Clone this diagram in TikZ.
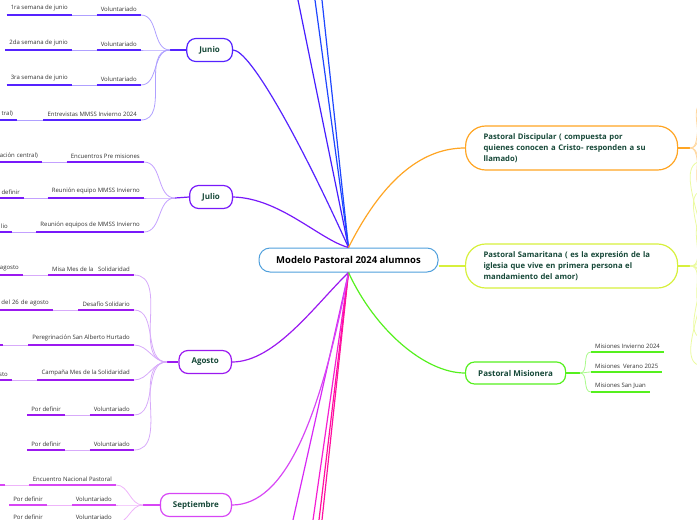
\documentclass[tikz,border=0pt]{standalone}
\usepackage{fontspec}
\setmainfont{Open Sans}
\usetikzlibrary{positioning,calc}

\definecolor{txtgreen}{RGB}{22,72,56}
\definecolor{leaftxt}{RGB}{50,50,50}
\definecolor{centreblue}{RGB}{80,160,220}
\definecolor{junioc}{RGB}{85,35,255}
\definecolor{juniol}{RGB}{175,160,255}
\definecolor{julioc}{RGB}{120,25,250}
\definecolor{juliol}{RGB}{195,160,255}
\definecolor{agostoc}{RGB}{155,25,240}
\definecolor{agostol}{RGB}{215,170,250}
\definecolor{septc}{RGB}{215,70,245}
\definecolor{septl}{RGB}{238,180,250}
\definecolor{discc}{RGB}{255,165,35}
\definecolor{discl}{RGB}{255,215,160}
\definecolor{samc}{RGB}{215,240,60}
\definecolor{saml}{RGB}{235,250,160}
\definecolor{misc}{RGB}{85,240,30}
\definecolor{misl}{RGB}{170,250,140}
\definecolor{topa}{RGB}{70,30,255}
\definecolor{topb}{RGB}{30,70,255}
\definecolor{bota}{RGB}{215,40,245}
\definecolor{botb}{RGB}{245,30,210}
\definecolor{botc}{RGB}{255,15,160}

\tikzset{
    centre/.style={draw=centreblue, fill=white, line width=1pt, rounded corners=11pt,
        minimum width=179pt, minimum height=24pt, font=\fontsize{9.5}{11}\selectfont\bfseries},
    month/.style={draw=#1, fill=white, line width=1.2pt, rounded corners=9pt, minimum height=23pt,
        inner xsep=12.5pt, text=txtgreen, font=\fontsize{8}{9}\selectfont\bfseries},
    area/.style={draw=#1, fill=white, line width=1.2pt, rounded corners=20pt, minimum height=44pt,
        inner xsep=18pt, text width=176pt, align=left, text=txtgreen,
        font=\fontsize{7.7}{11}\selectfont\bfseries},
    leaf/.style={inner xsep=4pt, inner ysep=3.5pt, text=leaftxt, font=\fontsize{6}{7}\selectfont,
        append after command={(\tikzlastnode.south west) edge[draw=#1, line width=1.4pt] (\tikzlastnode.south east)}},
    cutleaf/.style={leaf=#1, text width=60pt, align=right},
    twig/.style={draw=#1, line width=0.8pt},
    branch/.style={draw=#1, line width=1.2pt},
}

\begin{document}
\begin{tikzpicture}[x=1pt, y=-1pt]
    \useasboundingbox (0,0) rectangle (697,520);
    \clip (0,0) rectangle (697,520);

    % main topic
    \node[centre] (modelo) at (348.5,260) {Modelo Pastoral 2024 alumnos};

    % branches leaving the picture
    \coordinate (topA) at (298,0);
    \coordinate (topB) at (315,0);
    \coordinate (topC) at (322,0);
    \coordinate (botA) at (293,520);
    \coordinate (botB) at (313,520);
    \coordinate (botC) at (319,520);
    \coordinate (botD) at (322,520);
    \draw[branch=topa] (modelo.north) -- (topA);
    \draw[branch=topb] (modelo.north) -- (topB);
    \draw[branch=topb] (modelo.north) -- (topC);
    \draw[branch=bota] (modelo.south) -- (botA);
    \draw[branch=botb] (modelo.south) -- (botB);
    \draw[branch=botc] (modelo.south) -- (botC);
    \draw[branch=botc] (modelo.south) -- (botD);

    % months
    \node[month=junioc, anchor=east] (junio) at (233,50) {Junio};
    \node[month=julioc, anchor=east] (julio) at (233,197) {Julio};
    \node[month=agostoc, anchor=east] (agosto) at (232,362) {Agosto};
    \node[month=septc, anchor=east] (septiembre) at (232,505) {Septiembre};
    \draw[branch=junioc] (modelo.north) .. controls (300,140) and (250,50) .. (junio.east);
    \draw[branch=julioc] (modelo.north) .. controls (320,240) and (280,198) .. (julio.east);
    \draw[branch=agostoc] (modelo.south) .. controls (315,305) and (275,362) .. (agosto.east);
    \draw[branch=septc] (modelo.south) .. controls (320,420) and (285,505) .. (septiembre.east);

    % pastorales
    \node[area=discc, anchor=west] (discipular) at (465,148)
        {Pastoral Discipular ( compuesta por\\quienes conocen a Cristo- responden a su\\llamado)};
    \node[area=samc, anchor=west] (samaritana) at (465,266)
        {Pastoral Samaritana ( es la expresión de la\\iglesia que vive en primera persona el\\mandamiento del amor)};
    \node[month=misc, anchor=west, minimum width=100pt, minimum height=22pt] (misionera) at (465,373)
        {Pastoral Misionera};
    \draw[branch=discc] (modelo.north) .. controls (385,175) and (425,148) .. (discipular.west);
    \draw[branch=samc] (modelo.east |- samaritana.west) -- (samaritana.west);
    \draw[branch=misc] (modelo.south) .. controls (375,330) and (425,373) .. (misionera.west);

    % discipular and samaritana children (outside the picture)
    \coordinate (jdisc) at (690,148);
    \coordinate (jsam) at (690,266);
    \draw[branch=discc] (discipular.east) -- (jdisc);
    \draw[branch=samc] (samaritana.east) -- (jsam);
    \foreach \dy in {-45,-25,22,40}
        \draw[twig=discl] (jdisc) to[out=0,in=180] ++(14,\dy);
    \foreach \dy in {-105,-75,-45,40,72,100}
        \draw[twig=saml] (jsam) to[out=0,in=180] ++(14,\dy);

    % misionera
    \coordinate (jmis) at (580,373);
    \node[leaf=misc, anchor=south west] (mis1) at (591,352) {Misiones Invierno 2024};
    \node[leaf=misc, anchor=south west] (mis2) at (591,372) {Misiones\ \ Verano 2025};
    \node[leaf=misc, anchor=south west] (mis3) at (591,392) {Misiones San Juan};
    \draw[branch=misc] (misionera.east) -- (jmis);
    \draw[twig=misl] (jmis) to[out=0,in=180] (mis1.south west);
    \draw[twig=misl] (jmis) to[out=0,in=180] (mis2.south west);
    \draw[twig=misl] (jmis) to[out=0,in=180] (mis3.south west);

    % junio
    \coordinate (jjun) at (170,50);
    \node[leaf=junioc, anchor=south east] (jun1) at (141,15) {Voluntariado};
    \node[leaf=junioc, anchor=south east] (jun1a) at (72,15) {1ra semana de junio};
    \node[leaf=junioc, anchor=south east] (jun2) at (141,50) {Voluntariado};
    \node[leaf=junioc, anchor=south east] (jun2a) at (72,50) {2da semana de junio};
    \node[leaf=junioc, anchor=south east] (jun3) at (141,85) {Voluntariado};
    \node[leaf=junioc, anchor=south east] (jun3a) at (72,85) {3ra semana de junio};
    \node[leaf=junioc, anchor=south east] (jun4) at (141,120) {Entrevistas MMSS Invierno 2024};
    \node[cutleaf=junioc, anchor=south east] (jun4a) at (17,120) {tral)};
    \draw[branch=junioc] (jjun) -- (junio.west);
    \foreach \n in {jun1,jun2,jun3,jun4} {
        \draw[twig=juniol] (\n a.south east) -- (\n.south west);
        \draw[twig=juniol] (\n.south east) to[out=0,in=180] (jjun);
    }

    % julio
    \coordinate (jjul) at (175,198);
    \node[leaf=julioc, anchor=south east] (jul1) at (144,162) {Encuentros Pre misiones};
    \node[cutleaf=julioc, anchor=south east] (jul1a) at (42,162) {ación central)};
    \node[leaf=julioc, anchor=south east] (jul2) at (144,198) {Reunión equipo MMSS Invierno};
    \node[cutleaf=julioc, anchor=south east] (jul2a) at (24,198) {definir};
    \node[leaf=julioc, anchor=south east] (jul3) at (144,232) {Reunión equipos de MMSS Invierno};
    \node[cutleaf=julioc, anchor=south east] (jul3a) at (12,232) {lio};
    \draw[branch=julioc] (jjul) -- (julio.west);
    \foreach \n in {jul1,jul2,jul3} {
        \draw[twig=juliol] (\n a.south east) -- (\n.south west);
        \draw[twig=juliol] (\n.south east) to[out=0,in=180] (jjul);
    }

    % agosto
    \coordinate (jago) at (167,362);
    \node[leaf=agostoc, anchor=south east] (ago1) at (134,275) {Misa Mes de la\ \ \ Solidaridad};
    \node[cutleaf=agostoc, anchor=south east] (ago1a) at (23,275) {agosto};
    \node[leaf=agostoc, anchor=south east] (ago2) at (134,310) {Desafío Solidario};
    \node[cutleaf=agostoc, anchor=south east] (ago2a) at (53,310) {a del 26 de agosto};
    \node[leaf=agostoc, anchor=south east] (ago3) at (134,345) {Peregrinación San Alberto Hurtado};
    \node[cutleaf=agostoc, anchor=south east] (ago3a) at (3,345) {};
    \node[leaf=agostoc, anchor=south east] (ago4) at (134,380) {Campaña Mes de la Solidaridad};
    \node[cutleaf=agostoc, anchor=south east] (ago4a) at (12,380) {sto};
    \node[leaf=agostoc, anchor=south east] (ago5) at (134,415) {Voluntariado};
    \node[leaf=agostoc, anchor=south east] (ago5a) at (65,415) {Por definir};
    \node[leaf=agostoc, anchor=south east] (ago6) at (134,450) {Voluntariado};
    \node[leaf=agostoc, anchor=south east] (ago6a) at (65,450) {Por definir};
    \draw[branch=agostoc] (jago) -- (agosto.west);
    \foreach \n in {ago1,ago2,ago3,ago4,ago5,ago6} {
        \draw[twig=agostol] (\n a.south east) -- (\n.south west);
        \draw[twig=agostol] (\n.south east) to[out=0,in=180] (jago);
    }

    % septiembre
    \coordinate (jsep) at (143,505);
    \node[leaf=septc, anchor=south east] (sep1) at (116,485) {Encuentro Nacional Pastoral};
    \node[cutleaf=septc, anchor=south east] (sep1a) at (5,485) {};
    \node[leaf=septc, anchor=south east] (sep2) at (116,505) {Voluntariado};
    \node[leaf=septc, anchor=south east] (sep2a) at (47,505) {Por definir};
    \node[leaf=septc, anchor=south east] (sep3) at (116,523) {Voluntariado};
    \node[leaf=septc, anchor=south east] (sep3a) at (47,523) {Por definir};
    \draw[branch=septc] (jsep) -- (septiembre.west);
    \foreach \n in {sep1,sep2,sep3} {
        \draw[twig=septl] (\n a.south east) -- (\n.south west);
        \draw[twig=septl] (\n.south east) to[out=0,in=180] (jsep);
    }
\end{tikzpicture}
\end{document}
